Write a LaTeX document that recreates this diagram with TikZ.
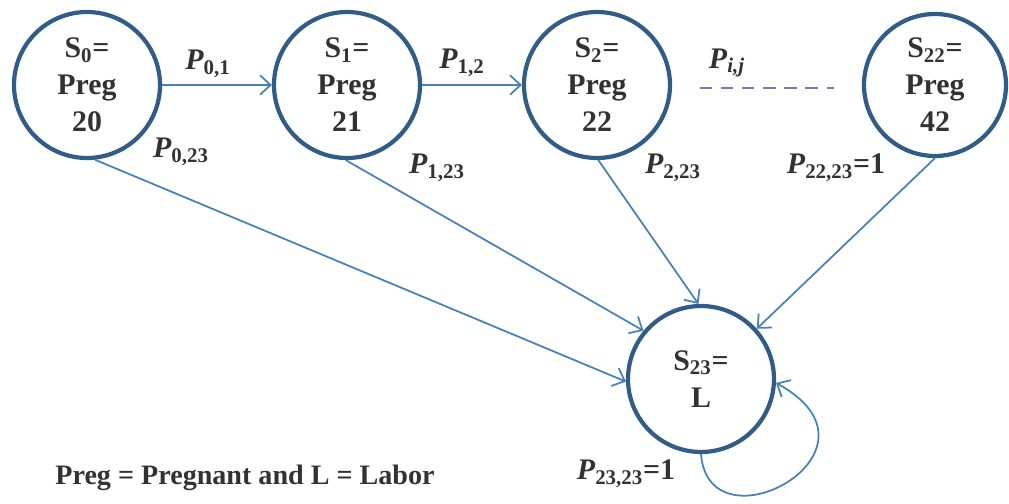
\documentclass[tikz,border=0pt]{standalone}
\usepackage{fontspec}
\setmainfont{Liberation Serif}[BoldFont={Liberation Serif Bold},
  BoldItalicFont={Liberation Serif Bold Italic}]
\usetikzlibrary{arrows.meta}
\definecolor{ringblue}{RGB}{50,92,136}
\definecolor{linkblue}{RGB}{72,128,186}
\definecolor{dashblue}{RGB}{118,118,196}
\definecolor{inkgray}{RGB}{50,50,50}

\begin{document}
\begin{tikzpicture}[x=0.02cm,y=-0.02cm,
  state/.style={circle,draw=ringblue,line width=2.4pt,minimum size=2.92cm,inner sep=0pt,
    align=center,text=inkgray,font=\bfseries\fontsize{17}{21}\selectfont},
  prob/.style={text=inkgray,font=\bfseries\fontsize{17}{20}\selectfont},
  link/.style={draw=linkblue,line width=1pt,-{Straight Barb[length=6pt,width=11pt]}}]
  \useasboundingbox (0,0) rectangle (1009,504);
  % states
  \node[state] (s0) at (87,85) {S\textsubscript{0}=\\Preg\\20};
  \node[state] (s1) at (347,85) {S\textsubscript{1}=\\Preg\\21};
  \node[state] (s2) at (597,85) {S\textsubscript{2}=\\Preg\\22};
  \node[state,minimum size=2.84cm] (s22) at (935,85) {S\textsubscript{22}=\\Preg\\42};
  \node[state] (s23) at (701,379) {S\textsubscript{23}=\\L};
  % transitions along the top
  \draw[link] (s0) -- (s1);
  \draw[link] (s1) -- (s2);
  \coordinate (dl) at (700,88);
  \coordinate (dr) at (834,88);
  \draw[dashblue,line width=1pt,dash pattern=on 7pt off 5pt] (dl) -- (dr);
  \node[prob] (p01) at (208,64) {\textit{P}\textsubscript{0,1}};
  \node[prob] (p12) at (462,63) {\textit{P}\textsubscript{1,2}};
  \node[prob] (pij) at (727,63) {\textit{P}\textsubscript{\textit{i,j}}};
  % transitions into labor
  \draw[link] (s0.-84) -- (s23.182);
  \draw[link] (s1.-91) -- (s23.140);
  \draw[link] (s2.-89) -- (s23.92);
  \draw[link] (s22.-90) -- (s23.42);
  \draw[link] (s23.-90) .. controls +(8,100) and +(124,68) .. (s23.-3);
  \node[prob] (p023) at (181,152) {\textit{P}\textsubscript{0,23}};
  \node[prob] (p123) at (437,168) {\textit{P}\textsubscript{1,23}};
  \node[prob] (p223) at (673,168) {\textit{P}\textsubscript{2,23}};
  \node[prob] (p2223) at (836,168) {\textit{P}\textsubscript{22,23}=1};
  \node[prob] (p2323) at (626,474) {\textit{P}\textsubscript{23,23}=1};
  % legend
  \node[prob,font=\bfseries\fontsize{16}{19}\selectfont] (key) at (245,478) {Preg = Pregnant and L = Labor};
\end{tikzpicture}
\end{document}
